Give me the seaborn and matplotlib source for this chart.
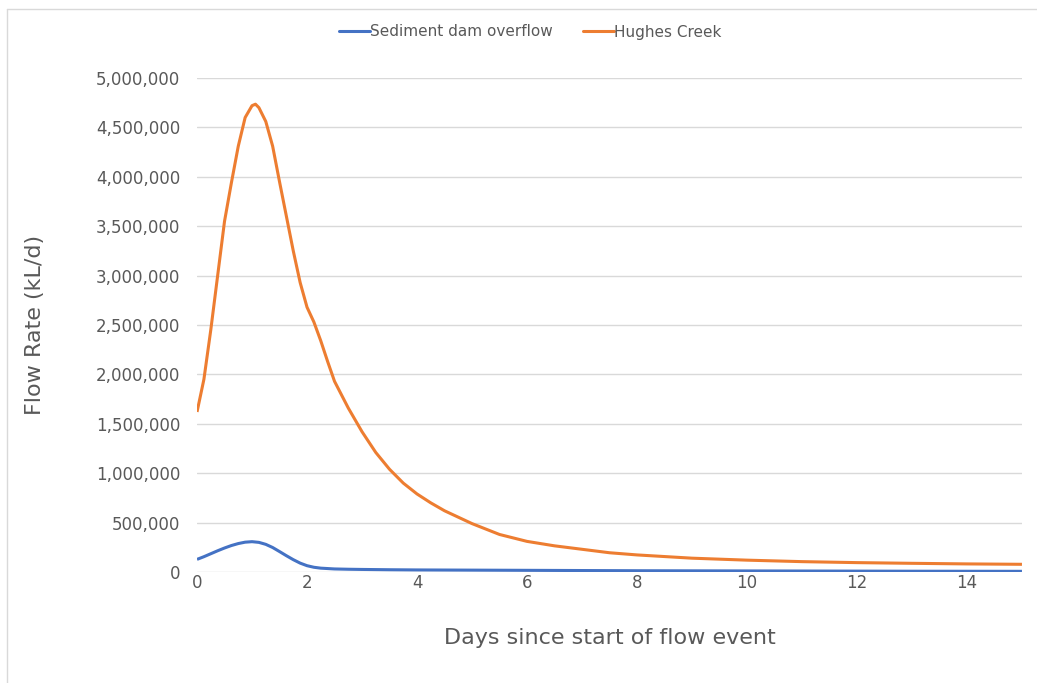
import matplotlib
matplotlib.use("Agg")
import matplotlib.pyplot as plt
import matplotlib.ticker as mticker
from matplotlib.lines import Line2D
import seaborn as sns
import pandas as pd

days_sed = [0, 0.125, 0.25, 0.375, 0.5, 0.625, 0.75, 0.875, 1.0, 1.125, 1.25, 1.375,
            1.5, 1.625, 1.75, 1.875, 2.0, 2.125, 2.25, 2.5, 2.75, 3.0, 3.5, 4, 5, 6,
            7, 8, 9, 10, 11, 12, 13, 14, 15]
sediment = [128000, 155000, 185000, 215000, 243000, 268000, 288000, 302000, 307000,
            300000, 280000, 248000, 207000, 165000, 125000, 90000, 64000, 48000,
            39000, 31000, 28000, 26000, 23000, 21000, 19000, 17000, 15000, 13000,
            12000, 11000, 10000, 9000, 8000, 7500, 7000]
days_hughes = [0, 0.125, 0.25, 0.375, 0.5, 0.625, 0.75, 0.875, 1.0, 1.0625, 1.125, 1.25,
               1.375, 1.5, 1.625, 1.75, 1.875, 2.0, 2.125, 2.25, 2.375, 2.5, 2.75, 3.0,
               3.25, 3.5, 3.75, 4.0, 4.25, 4.5, 5.0, 5.5, 6.0, 6.5, 7.0, 7.5, 8.0, 9,
               10, 11, 12, 13, 14, 15]
hughes = [1620000, 1950000, 2450000, 3000000, 3550000, 3940000, 4310000, 4600000,
          4720000, 4735000, 4700000, 4560000, 4310000, 3950000, 3600000, 3250000,
          2930000, 2680000, 2530000, 2340000, 2130000, 1930000, 1660000, 1420000,
          1210000, 1040000, 900000, 790000, 700000, 620000, 490000, 380000, 310000,
          265000, 230000, 195000, 173000, 140000, 120000, 105000, 95000, 88000,
          82000, 78000]
series_names = ["Sediment dam overflow", "Hughes Creek"]
colors = ["#4472C4", "#ED7D31"]
y_ticks = [0, 500000, 1000000, 1500000, 2000000, 2500000, 3000000, 3500000,
           4000000, 4500000, 5000000]
x_ticks = [0, 2, 4, 6, 8, 10, 12, 14]

df = pd.concat([
    pd.DataFrame({"Days": days_sed, "Flow": sediment, "Series": series_names[0]}),
    pd.DataFrame({"Days": days_hughes, "Flow": hughes, "Series": series_names[1]}),
])

sns.set_style("white")
plt.rcParams["font.family"] = ["DejaVu Sans"]
text_color = "#595959"

fig = plt.figure(figsize=(10.37, 6.83), dpi=100)
ax = fig.add_axes([0.19, 0.1625, 0.7955, 0.7233])

sns.lineplot(data=df, x="Days", y="Flow", hue="Series", palette=colors,
             hue_order=series_names, linewidth=2.2, ax=ax, legend=False,
             estimator=None, sort=False)
for ln in ax.lines:
    ln.set_solid_joinstyle("round")
    ln.set_solid_capstyle("butt")

ax.set_xlim(0, 15)
ax.set_ylim(0, 5000000)
ax.set_yticks(y_ticks)
ax.set_xticks(x_ticks)
ax.yaxis.set_major_formatter(mticker.FuncFormatter(lambda v, p: f"{int(v):,}"))
ax.grid(axis="y", color="#D9D9D9", linewidth=1)
ax.set_axisbelow(True)
for s in ax.spines.values():
    s.set_visible(False)
ax.tick_params(axis="both", length=0, labelsize=12, colors=text_color)
ax.tick_params(axis="x", pad=1.5)
ax.tick_params(axis="y", pad=12)
ax.set_xlabel("Days since start of flow event", fontsize=16, color=text_color, labelpad=26)
ax.set_ylabel("Flow Rate (kL/d)", fontsize=16, color=text_color, labelpad=37)

handles = [Line2D([0], [0], color=c, linewidth=2.2) for c in colors]
fig.legend(handles, series_names, loc="center", bbox_to_anchor=(530 / 1037, 1 - 32 / 683),
           ncol=2, frameon=False, fontsize=11, handlelength=2.0, handletextpad=0.0,
           columnspacing=2.0, labelcolor=text_color)

# chart area border (left and top edges visible)
fig.add_artist(Line2D([7 / 1037, 7 / 1037], [0, 1 - 9 / 683], transform=fig.transFigure,
                      color="#D9D9D9", linewidth=1))
fig.add_artist(Line2D([7 / 1037, 1], [1 - 9 / 683, 1 - 9 / 683], transform=fig.transFigure,
                      color="#D9D9D9", linewidth=1))

fig.savefig("out.png", dpi=100)
